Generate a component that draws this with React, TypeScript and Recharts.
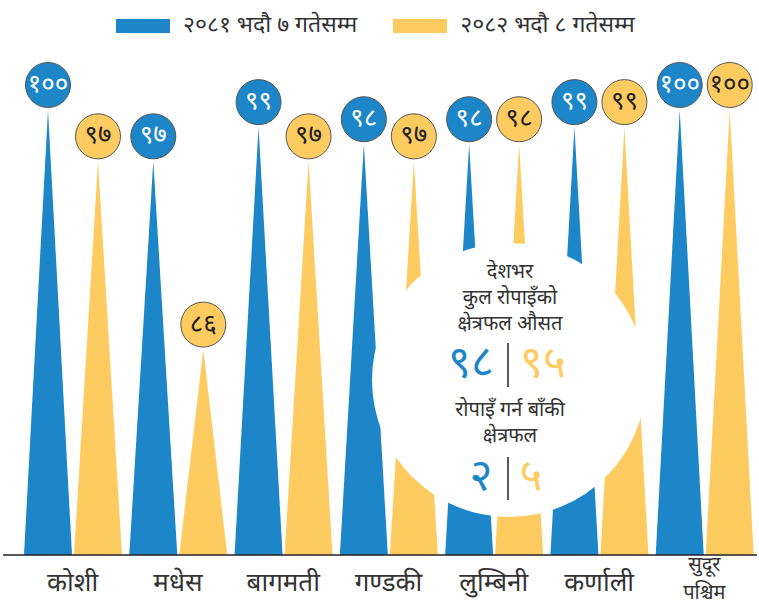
import { BarChart, Bar, XAxis, YAxis, LabelList } from "recharts";

const provinces = ["कोशी", "मधेस", "बागमती", "गण्डकी", "लुम्बिनी", "कर्णाली", "सुदूर पश्चिम"];
const y2081 = [100, 97, 99, 98, 98, 99, 100];
const y2082 = [97, 86, 97, 97, 98, 99, 100];
const seriesNames = ["२०८१ भदौ ७ गतेसम्म", "२०८२ भदौ ८ गतेसम्म"];
const avgArea = [98, 95];
const remainingArea = [2, 5];

const BLUE = "#1c86c8";
const YELLOW = "#fecb60";
const TEXT = "#333";
const FONT = "'Noto Sans Devanagari', 'Lohit Devanagari', 'Noto Sans', sans-serif";

const W = 759;
const H = 611;

const toNepali = (n: number) =>
  String(n).replace(/[0-9]/g, (d) => "०१२३४५६७८९"[Number(d)]);

const rows = provinces.map((name, i) => ({
  name,
  y2081: y2081[i],
  y2082: y2082[i],
}));

const Spike = (props: any) => {
  const { x, y, width, height, fill } = props;
  return (
    <path
      d={`M${x},${y + height} L${x + width / 2},${y} L${x + width},${y + height} Z`}
      fill={fill}
    />
  );
};

const badge = (fill: string, color: string) => (props: any) => {
  const { x, y, width, value } = props;
  const cx = x + width / 2;
  const cy = y - 25;
  return (
    <g>
      <circle cx={cx} cy={cy} r={22.5} fill={fill} stroke="#555" strokeWidth={1} />
      <text
        x={cx}
        y={cy + 1}
        textAnchor="middle"
        dominantBaseline="central"
        fontSize={26}
        fill={color}
        fontFamily={FONT}
      >
        {toNepali(value)}
      </text>
    </g>
  );
};

const ProvinceTick = (props: any) => {
  const { x, y, payload } = props;
  const lines = String(payload.value).split(" ");
  const multi = lines.length > 1;
  return (
    <text textAnchor="middle" fontSize={multi ? 20 : 26} fill={TEXT} fontFamily={FONT}>
      {lines.map((l, i) => (
        <tspan
          key={l}
          x={x}
          y={y + (multi ? 3 + i * 28 : 22)}
          dominantBaseline="central"
        >
          {l}
        </tspan>
      ))}
    </text>
  );
};

const Summary = () => (
  <svg
    width={W}
    height={H}
    style={{ position: "absolute", left: 0, top: 0, pointerEvents: "none" }}
    fontFamily={FONT}
  >
    <circle cx={509} cy={380} r={137} fill="#fff" />
    <g fontSize={20} fill={TEXT} textAnchor="middle">
      <text x={510} y={273} dominantBaseline="central">देशभर</text>
      <text x={510} y={299} dominantBaseline="central">कुल रोपाइँको</text>
      <text x={510} y={325} dominantBaseline="central">क्षेत्रफल औसत</text>
      <text x={510} y={411} dominantBaseline="central">रोपाइँ गर्न बाँकी</text>
      <text x={510} y={437} dominantBaseline="central">क्षेत्रफल</text>
    </g>
    <g fontSize={44} textAnchor="middle">
      <text x={471} y={366} dominantBaseline="central" fill={BLUE}>
        {toNepali(avgArea[0])}
      </text>
      <text x={543} y={366} dominantBaseline="central" fill={YELLOW}>
        {toNepali(avgArea[1])}
      </text>
      <text x={481} y={479} dominantBaseline="central" fill={BLUE}>
        {toNepali(remainingArea[0])}
      </text>
      <text x={531} y={479} dominantBaseline="central" fill={YELLOW}>
        {toNepali(remainingArea[1])}
      </text>
    </g>
    <line x1={508} y1={343} x2={508} y2={387} stroke="#222" strokeWidth={1.5} />
    <line x1={508} y1={457} x2={508} y2={500} stroke="#222" strokeWidth={1.5} />
  </svg>
);

const LegendBar = () => (
  <div
    style={{
      position: "absolute",
      left: 116,
      top: 11,
      height: 30,
      display: "flex",
      alignItems: "center",
      fontFamily: FONT,
      fontSize: 23,
      lineHeight: "30px",
      color: TEXT,
    }}
  >
    {seriesNames.map((n, i) => (
      <div key={n} style={{ display: "flex", alignItems: "center", marginRight: 36 }}>
        <span
          style={{
            display: "inline-block",
            width: 54,
            height: 14,
            background: i === 0 ? BLUE : YELLOW,
            marginRight: 13,
          }}
        />
        <span>{n}</span>
      </div>
    ))}
  </div>
);

export default function App() {
  return (
    <div style={{ position: "absolute", left: 0, top: 0, width: W, height: H, background: "#fff" }}>
      <BarChart
        width={W}
        height={H}
        data={rows}
        margin={{ top: 110, right: 2, bottom: 0, left: 3 }}
        barSize={48}
        barGap={2}
      >
        <XAxis
          dataKey="name"
          height={56}
          interval={0}
          tickLine={false}
          axisLine={{ stroke: "#222", strokeWidth: 1.5 }}
          tick={<ProvinceTick />}
          padding={{ left: 17, right: 0 }}
        />
        <YAxis hide domain={[74, 100]} />
        <Bar dataKey="y2081" fill={BLUE} shape={Spike} isAnimationActive={false}>
          <LabelList dataKey="y2081" content={badge(BLUE, "#fff")} />
        </Bar>
        <Bar dataKey="y2082" fill={YELLOW} shape={Spike} isAnimationActive={false}>
          <LabelList dataKey="y2082" content={badge(YELLOW, "#222")} />
        </Bar>
      </BarChart>
      <Summary />
      <LegendBar />
    </div>
  );
}
